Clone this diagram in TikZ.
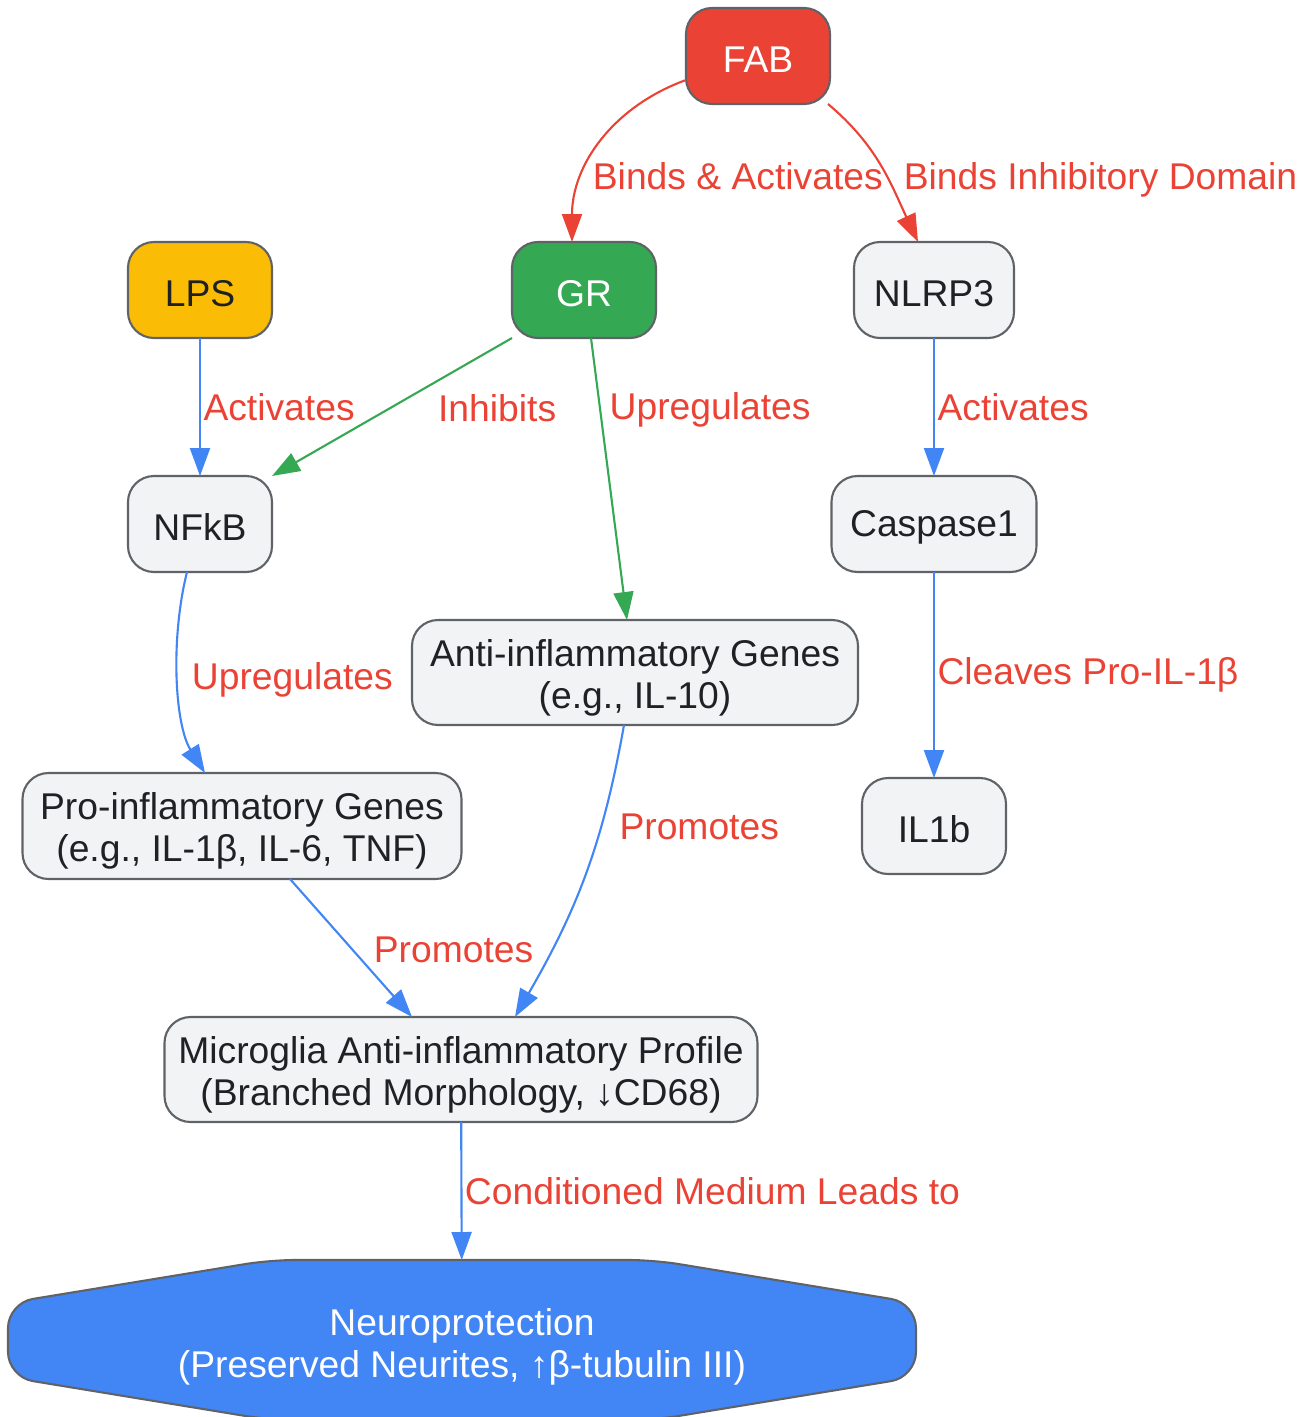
\documentclass[tikz,border=0pt]{standalone}
\usepackage{fontspec}
\setmainfont{Liberation Sans}
\usepackage{xcolor}
\usepackage{tikz}
\usetikzlibrary{shapes,arrows,positioning,calc,arrows.meta,backgrounds}

\definecolor{gred}{HTML}{EA4335}
\definecolor{ggreen}{HTML}{34A853}
\definecolor{gyellow}{HTML}{FBBC05}
\definecolor{gblue}{HTML}{4285F4}
\definecolor{ggrey}{HTML}{F1F3F4}
\definecolor{gborder}{HTML}{5F6368}
\definecolor{gtext}{HTML}{202124}

\newcommand{\liftline}[1]{\rule{0pt}{#1}}

\begin{document}
\begin{tikzpicture}[node distance=0cm, outer sep=0pt,
    font=\fontsize{21.2}{24}\selectfont,
    box/.style={draw=gborder, line width=1.2pt, rectangle, rounded corners=0.52cm, minimum width=2.88cm, minimum height=1.92cm, fill=ggrey, text=gtext, align=center, inner sep=2pt},
    lbl/.style={text=gred, inner sep=2pt},
    flow/.style={-{Triangle[length=0.56cm,width=0.4cm]}, line width=1.2pt}]
    \useasboundingbox (0,0) rectangle (26.12,-28.34);

    \node [box, fill=gred, text=white] (fab) at (15.16,-1.12) {\liftline{18.5pt}FAB};
    \node [box, fill=gyellow] (lps) at (4.0,-5.8) {\liftline{18.5pt}LPS};
    \node [box, fill=ggreen, text=white, right=4.8cm of lps] (gr) {\liftline{18.5pt}GR};
    \node [box, minimum width=3.2cm, right=3.96cm of gr] (nlrp) {\liftline{18.5pt}NLRP3};

    \node [box, below=2.76cm of lps] (nfkb) {\liftline{18.5pt}NFkB};
    \node [box, minimum width=4.1cm, below=2.76cm of nlrp] (casp) {\liftline{18.5pt}Caspase1};
    \node [box, below=4.12cm of casp] (ilb) {\liftline{18.5pt}IL1b};

    \node [box, minimum width=8.92cm, minimum height=2.1cm] (anti) at (12.7,-13.45) {\liftline{21pt}Anti-inflammatory Genes\\(e.g., IL-10)};
    \node [box, minimum width=8.78cm, minimum height=2.12cm] (pro) at (4.84,-16.52) {\liftline{21pt}Pro-inflammatory Genes\\(e.g., IL-1β, IL-6, TNF)};
    \node [box, minimum width=11.86cm, minimum height=2.1cm] (micro) at (9.22,-21.39) {\liftline{21pt}Microglia Anti-inflammatory Profile\\(Branched Morphology, ↓CD68)};

    \node [rectangle, minimum width=18.16cm, minimum height=3.2cm, text=white, align=center, inner sep=2pt] (neuro) at (9.24,-26.8) {\liftline{23pt}Neuroprotection\\(Preserved Neurites, ↑β-tubulin III)};
    \begin{scope}[on background layer]
        \draw [draw=gborder, fill=gblue, line width=1.2pt, rounded corners=0.5cm] (neuro.north) -- ($(neuro.north)+(3.84,0)$) -- ($(neuro.east)+(0,0.74)$) -- ($(neuro.east)+(0,-0.74)$) -- ($(neuro.south)+(3.84,0)$) -- ($(neuro.south)+(-3.84,0)$) -- ($(neuro.west)+(0,-0.74)$) -- ($(neuro.west)+(0,0.74)$) -- ($(neuro.north)+(-3.84,0)$) -- cycle;
    \end{scope}

    % FAB
    \draw [flow, gred] ([yshift=-0.48cm]fab.west) to[out=200, in=90] node[lbl, pos=0.62, anchor=west, yshift=-0.26cm] {Binds \& Activates} ([xshift=-0.24cm]gr.north);
    \draw [flow, gred] ([xshift=-0.04cm]fab.south east) to[out=-40, in=115] node[lbl, pos=0.5, anchor=west, xshift=0.38cm, yshift=-0.26cm] {Binds Inhibitory Domain} ([xshift=-0.32cm]nlrp.north);

    % LPS / GR
    \draw [flow, gblue] (lps) -- node[lbl, anchor=west] {Activates} (nfkb);
    \draw [flow, ggreen] (gr.south west) -- node[lbl, pos=0.51, anchor=west, xshift=0.9cm] {Inhibits} (nfkb.north east);
    \draw [flow, ggreen] ([xshift=0.14cm]gr.south) -- node[lbl, pos=0.255, anchor=west, xshift=0.12cm] {Upregulates} ([xshift=-0.16cm]anti.north);

    % NLRP3 branch
    \draw [flow, gblue] (nlrp) -- node[lbl, anchor=west] {Activates} (casp);
    \draw [flow, gblue] (casp) -- node[lbl, anchor=west] {Cleaves Pro-IL-1β} (ilb);

    % genes
    \draw [flow, gblue] ([xshift=-0.26cm]nfkb.south) .. controls (3.4,-12.8) and (3.5,-14.5) .. node[lbl, pos=0.5, anchor=west, xshift=0.2cm] {Upregulates} ([xshift=-0.74cm]pro.north);
    \draw [flow, gblue] ([xshift=-0.22cm]anti.south) to[out=-100, in=60] node[lbl, pos=0.32, anchor=west, xshift=0.3cm] {Promotes} ([xshift=1.08cm]micro.north);
    \draw [flow, gblue] ([xshift=0.96cm]pro.south) -- node[lbl, pos=0.515, anchor=west, xshift=0.35cm] {Promotes} ([xshift=-0.98cm]micro.north);

    \draw [flow, gblue] (micro) -- node[lbl, anchor=west] {Conditioned Medium Leads to} (neuro);

\end{tikzpicture}
\end{document}
